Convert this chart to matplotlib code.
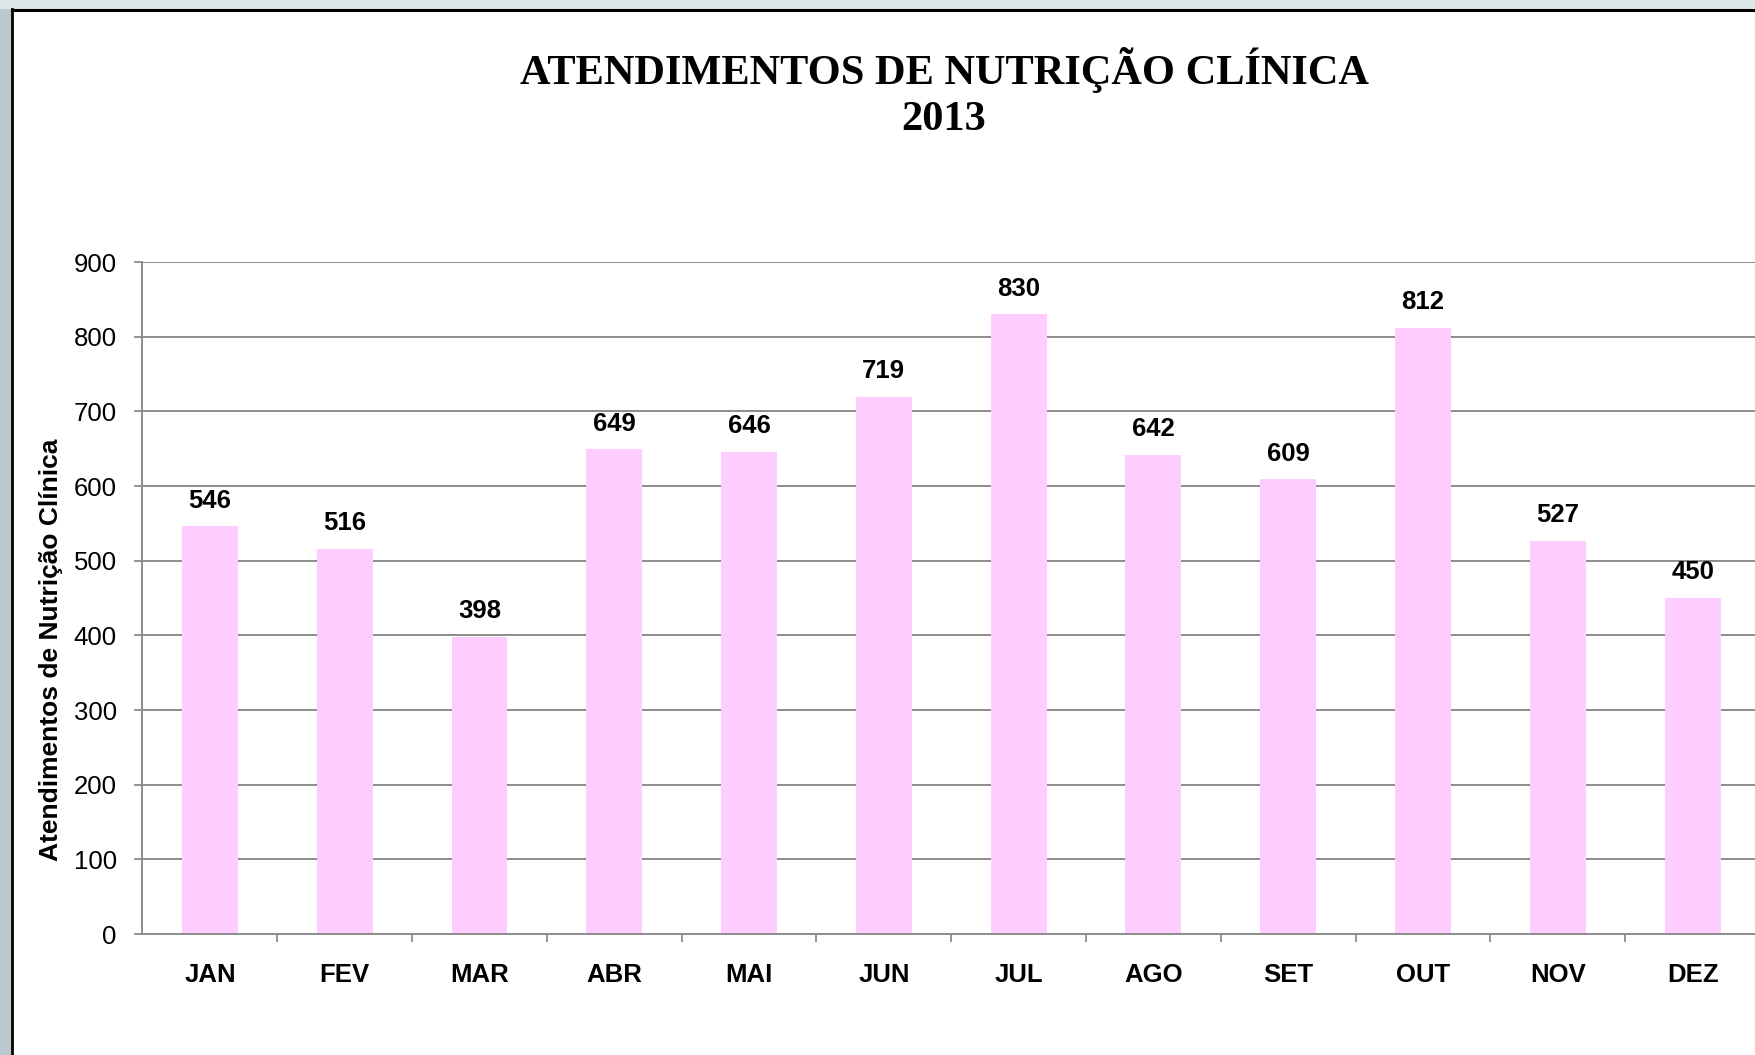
import matplotlib
matplotlib.use('Agg')
import matplotlib.pyplot as plt
from matplotlib.patches import Rectangle
from matplotlib.lines import Line2D
import numpy as np

# data
meses = ['JAN', 'FEV', 'MAR', 'ABR', 'MAI', 'JUN', 'JUL', 'AGO', 'SET', 'OUT', 'NOV', 'DEZ']
atendimentos = [546, 516, 398, 649, 646, 719, 830, 642, 609, 812, 527, 450]
yticks = [0, 100, 200, 300, 400, 500, 600, 700, 800, 900]

titulo = 'ATENDIMENTOS DE NUTRIÇÃO CLÍNICA\n2013'
ylabel = 'Atendimentos de Nutrição Clínica'

plt.rcParams['font.family'] = ['Liberation Sans', 'DejaVu Sans']

fig = plt.figure(figsize=(17.56, 10.55), dpi=100)
fig.patch.set_facecolor('white')

# slide-like frame: gray strip left / top and a black border
fig.add_artist(Rectangle((0, 0), 11/1756, 1, transform=fig.transFigure, color='#bcc8cd', zorder=0))
fig.add_artist(Rectangle((0, 1 - 8/1055), 1, 8/1055, transform=fig.transFigure, color='#dde6e6', zorder=0))
fig.add_artist(Line2D([12/1756, 12/1756], [0, 1 - 9/1055], transform=fig.transFigure, color='black', lw=2))
fig.add_artist(Line2D([12/1756, 1], [1 - 9.5/1055, 1 - 9.5/1055], transform=fig.transFigure, color='black', lw=2.2))

ax = fig.add_axes([142.5/1756, 121/1055, 1617.5/1756, 672/1055])
x = np.arange(len(meses))
ax.bar(x, atendimentos, width=0.415, color='#ffccff', zorder=2)

ax.set_xlim(-0.5, 11.5)
ax.set_ylim(0, 900)
ax.set_yticks(yticks)
ax.set_xticks(x)
ax.set_xticklabels(meses, fontsize=18.5, fontweight='bold')
ax.set_xticks(np.arange(len(meses)) + 0.5, minor=True)
ax.tick_params(axis='x', which='major', length=0, pad=21)
ax.tick_params(axis='x', which='minor', length=5.5, width=1.3, color='#8c8c8c', direction='out')
ax.tick_params(axis='y', length=5.5, width=1.3, color='#8c8c8c', labelsize=18.5, pad=13)

ax.yaxis.grid(True, color='#8c8c8c', lw=1.4, zorder=1)
ax.set_axisbelow(True)
for s in ['top', 'right']:
    ax.spines[s].set_visible(False)
for s in ['left', 'bottom']:
    ax.spines[s].set_color('#8c8c8c')
    ax.spines[s].set_linewidth(1.4)

for xi, v in zip(x, atendimentos):
    ax.annotate(str(v), (xi, v), xytext=(0, 18.5), textcoords='offset points',
                ha='center', va='center', fontsize=18.5, fontweight='bold')

fig.text(51.5/1756, 1 - 650/1055, ylabel, rotation=90, ha='center', va='center',
         fontsize=19, fontweight='bold')

fig.text(944/1756, 1 - 93/1055, titulo, ha='center', va='center', fontsize=30.5,
         fontweight='bold', family='Liberation Serif', linespacing=1.3)

fig.savefig('out.png', dpi=100)
